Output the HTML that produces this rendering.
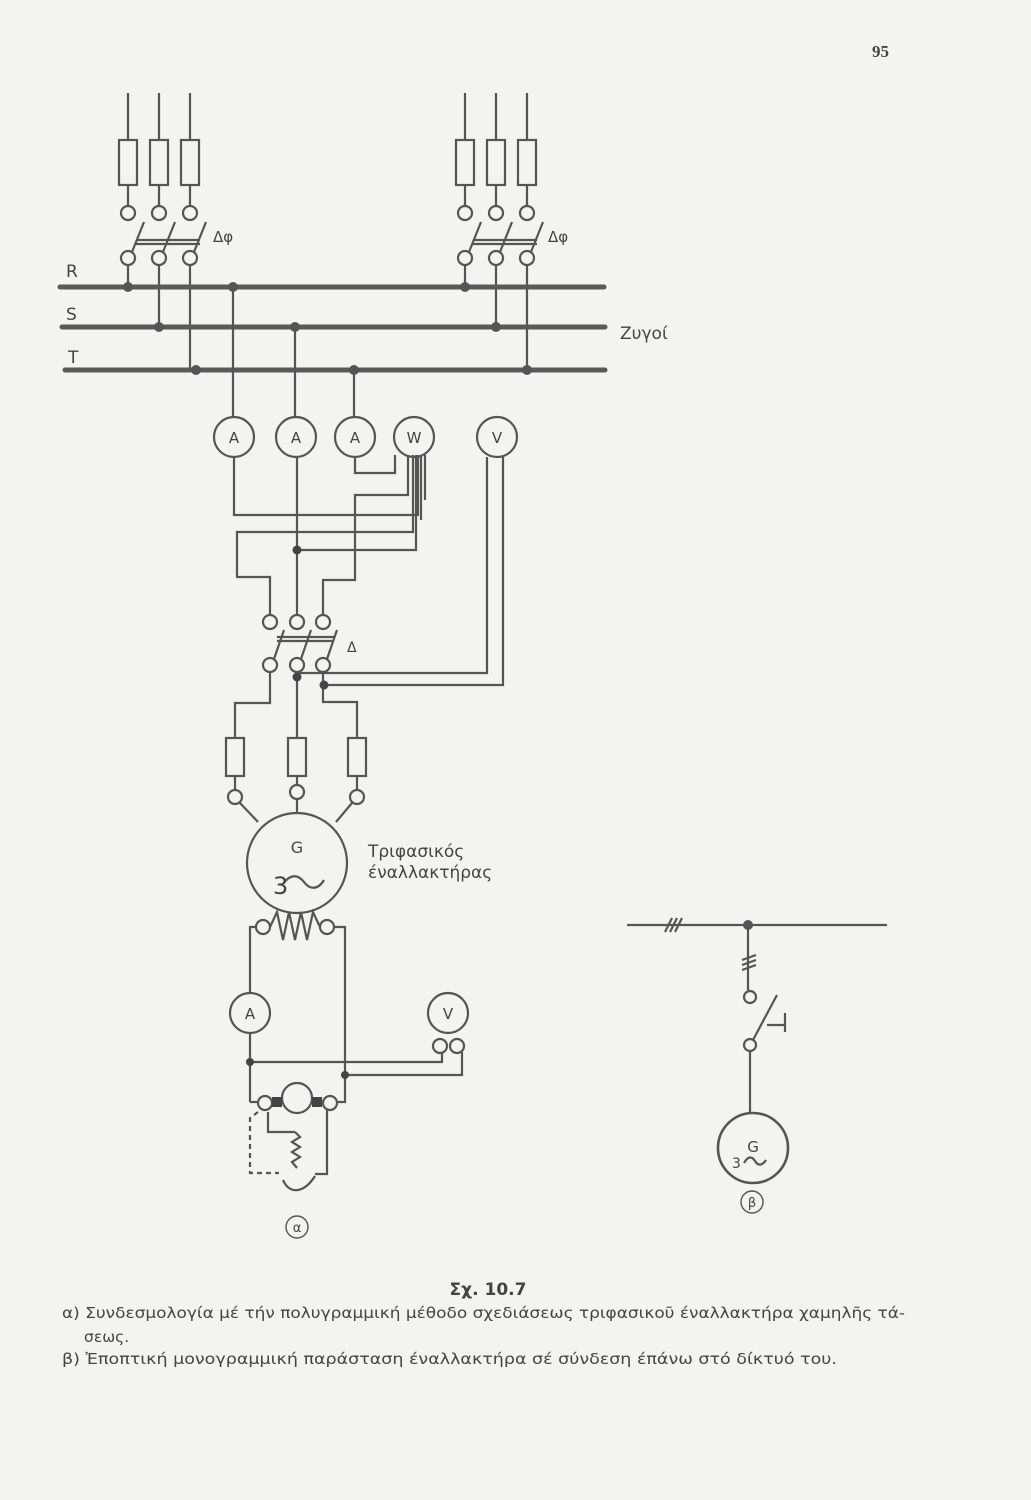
<!DOCTYPE html>
<html><head><meta charset="utf-8"><style>
html,body{margin:0;padding:0;background:#f3f3f1;}
svg{display:block}
text{font-family:"DejaVu Sans","Liberation Sans",sans-serif;fill:#444}
</style></head><body>
<svg width="1031" height="1500" viewBox="0 0 1031 1500" xmlns="http://www.w3.org/2000/svg">
<rect width="1031" height="1500" fill="#f3f3f1"/>
<text x="872" y="57" font-size="17" font-weight="bold" style="font-family:'Liberation Serif',serif">95</text>
<g stroke="#555" stroke-width="2.2" fill="none">
<path d="M128 93V140M159 93V140M190 93V140M128 185V206M159 185V206M190 185V206"/>
<rect x="119" y="140" width="18" height="45"/><rect x="150" y="140" width="18" height="45"/><rect x="181" y="140" width="18" height="45"/>
<circle cx="128" cy="213" r="7"/><circle cx="159" cy="213" r="7"/><circle cx="190" cy="213" r="7"/>
<circle cx="128" cy="258" r="7"/><circle cx="159" cy="258" r="7"/><circle cx="190" cy="258" r="7"/>
<path d="M132 252L144 222M163 252L175 222M194 252L206 222M136 240H200M136 244H200"/>
<path d="M128 265V287M159 265V327M190 265V370"/>
<path d="M465 93V140M496 93V140M527 93V140M465 185V206M496 185V206M527 185V206"/>
<rect x="456" y="140" width="18" height="45"/><rect x="487" y="140" width="18" height="45"/><rect x="518" y="140" width="18" height="45"/>
<circle cx="465" cy="213" r="7"/><circle cx="496" cy="213" r="7"/><circle cx="527" cy="213" r="7"/>
<circle cx="465" cy="258" r="7"/><circle cx="496" cy="258" r="7"/><circle cx="527" cy="258" r="7"/>
<path d="M469 252L481 222M500 252L512 222M531 252L543 222M473 240H537M473 244H537"/>
<path d="M465 265V287M496 265V327M527 265V370"/>
</g>
<g stroke="#5a5a5a" stroke-width="5" stroke-linecap="round">
<path d="M60 287H604M62 327H605M65 370H605"/>
</g>
<g fill="#555">
<circle cx="128" cy="287" r="5"/><circle cx="233" cy="287" r="5"/><circle cx="465" cy="287" r="5"/>
<circle cx="159" cy="327" r="5"/><circle cx="295" cy="327" r="5"/><circle cx="496" cy="327" r="5"/>
<circle cx="196" cy="370" r="5"/><circle cx="354" cy="370" r="5"/><circle cx="527" cy="370" r="5"/>
</g>
<text x="66" y="277" font-size="17">R</text>
<text x="66" y="320" font-size="17">S</text>
<text x="68" y="363" font-size="17">T</text>
<text x="620" y="339" font-size="17">Ζυγοί</text>
<text x="213" y="242" font-size="15">Δφ</text>
<text x="548" y="242" font-size="15">Δφ</text>
<g stroke="#555" stroke-width="2.2" fill="none">
<path d="M233 287V417M295 327V417M354 370V417"/>
<circle cx="234" cy="437" r="20"/><circle cx="296" cy="437" r="20"/><circle cx="355" cy="437" r="20"/><circle cx="414" cy="437" r="20"/><circle cx="497" cy="437" r="20"/>
<path d="M234 457V515H418V455"/>
<path d="M413 455V532H237V577H270V615"/>
<path d="M297 457V615"/>
<path d="M297 550H416V455"/>
<path d="M355 457V473H395V455"/>
<path d="M408 455V495H355V580H323V615"/>
<path d="M421 455V520M425 455V500"/>
<circle cx="270" cy="622" r="7"/><circle cx="297" cy="622" r="7"/><circle cx="323" cy="622" r="7"/>
<circle cx="270" cy="665" r="7"/><circle cx="297" cy="665" r="7"/><circle cx="323" cy="665" r="7"/>
<path d="M274 659L284 630M301 659L311 630M327 659L337 630M277 637H334M277 641H334"/>
<path d="M270 672V703H235V738M297 672V738M323 672V702H357V738"/>
<rect x="226" y="738" width="18" height="38"/><rect x="288" y="738" width="18" height="38"/><rect x="348" y="738" width="18" height="38"/>
<path d="M235 776V790M297 776V785M357 776V790"/>
<path d="M487 457V673H297M503 457V685H324"/>
<circle cx="235" cy="797" r="7"/><circle cx="297" cy="792" r="7"/><circle cx="357" cy="797" r="7"/>
<path d="M240 803L258 822M297 799V813M352 803L336 822"/>
<circle cx="297" cy="863" r="50"/>
<path d="M283 884C290 874 298 874 304 882S318 890 324 880"/>
<circle cx="263" cy="927" r="7"/><circle cx="327" cy="927" r="7"/>
<path d="M270 927L277 912L283 940L289 912L295 940L301 912L307 940L313 912L320 927"/>
<path d="M256 927H250V993M250 1033V1102"/>
<circle cx="250" cy="1013" r="20"/>
<path d="M334 927H345V1102H337"/>
<circle cx="448" cy="1013" r="20"/>
<circle cx="440" cy="1046" r="7"/><circle cx="457" cy="1046" r="7"/>
<path d="M250 1062H442V1052M345 1075H462V1052"/>
<path d="M250 1102H258"/>
<circle cx="265" cy="1103" r="7"/><circle cx="330" cy="1103" r="7"/>
<circle cx="297" cy="1098" r="15"/>
<path d="M268 1112V1132H295M327 1110V1174H315"/>
<path d="M295 1132L300 1137L292 1142L300 1147L292 1152L300 1157L292 1162L297 1168"/>
<path d="M258 1112L250 1118V1173H279" stroke-dasharray="5 4"/>
<path d="M283 1180C290 1196 305 1192 315 1176"/>
<circle cx="297" cy="1227" r="11" stroke-width="1.4"/>
</g>
<g fill="#444"><rect x="272" y="1097" width="10" height="10"/><rect x="312" y="1097" width="10" height="10"/>
<circle cx="250" cy="1062" r="4"/><circle cx="345" cy="1075" r="4"/><circle cx="297" cy="550" r="4.5"/><circle cx="297" cy="677" r="4.5"/><circle cx="324" cy="685" r="4.5"/></g>
<g font-size="15" text-anchor="middle">
<text x="234" y="443">A</text><text x="296" y="443">A</text><text x="355" y="443">A</text><text x="414" y="443">W</text><text x="497" y="443">V</text>
<text x="250" y="1019">A</text><text x="448" y="1019">V</text>
<text x="297" y="853" font-size="16">G</text>
</g>
<text x="273" y="894" font-size="24">3</text>
<text x="347" y="652" font-size="14">Δ</text>
<text x="368" y="857" font-size="17">Τριφασικός</text>
<text x="368" y="878" font-size="17">έναλλακτήρας</text>
<text x="297" y="1232" font-size="13" text-anchor="middle">α</text>
<g stroke="#555" stroke-width="2.2" fill="none">
<path d="M627 925H887M748 925V990M665 932L672 918M670 932L677 918M675 932L682 918"/>
<path d="M742 960L756 955M742 965L756 960M742 970L756 965"/>
<circle cx="750" cy="997" r="6"/><circle cx="750" cy="1045" r="6"/>
<path d="M753 1040L777 995M767 1025H785M785 1013V1032M750 1051V1113"/>
<circle cx="753" cy="1148" r="35" stroke-width="2.6"/>
<path d="M744 1163C748 1156 752 1156 755 1161S762 1166 766 1160"/>
<circle cx="752" cy="1202" r="11" stroke-width="1.4"/>
</g>
<circle cx="748" cy="925" r="5" fill="#555"/>
<text x="753" y="1152" font-size="15" text-anchor="middle">G</text>
<text x="732" y="1168" font-size="14">3</text>
<text x="752" y="1207" font-size="13" text-anchor="middle">β</text>
<text x="488" y="1295" font-size="17" text-anchor="middle" font-weight="bold">Σχ. 10.7</text>
<g font-size="15.5">
<text x="62" y="1318" textLength="843" lengthAdjust="spacingAndGlyphs">α) Συνδεσμολογία μέ τήν πολυγραμμική μέθοδο σχεδιάσεως τριφασικοῦ έναλλακτήρα χαμηλῆς τά-</text>
<text x="84" y="1342">σεως.</text>
<text x="62" y="1364" textLength="775" lengthAdjust="spacingAndGlyphs">β) Ἐποπτική μονογραμμική παράσταση έναλλακτήρα σέ σύνδεση έπάνω στό δίκτυό του.</text>
</g>
</svg>
</body></html>
